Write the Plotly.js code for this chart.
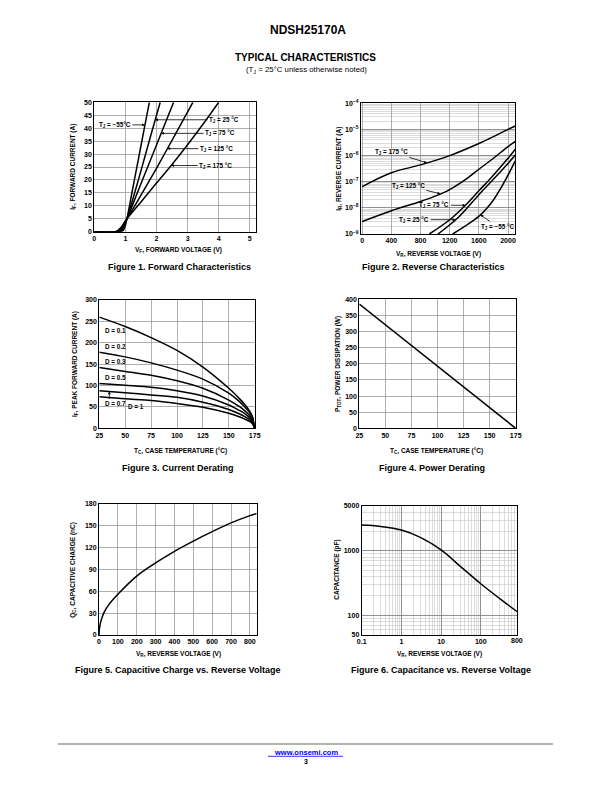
<!DOCTYPE html>
<html><head><meta charset="utf-8">
<script src="https://cdn.plot.ly/plotly-3.0.1.min.js"></script>
<style>html,body{margin:0;padding:0;background:#fff}#c{width:612px;height:792px}</style>
</head><body><div id="c"></div>
<script>
// ---------- Figure 1: forward characteristics ----------
const vf_m55 = [0, 0.85, 0.93, 1.0, 1.05, 1.1, 1.2, 1.4, 1.6, 1.77];
const if_m55 = [0, 0, 0.5, 2.5, 5, 8, 14.4, 26.9, 39.4, 50];
const vf_25  = [0, 0.78, 0.9, 1.0, 1.05, 1.2, 1.5, 1.8, 2.12];
const if_25  = [0, 0, 0.8, 3.5, 5, 11, 23.5, 36.5, 50];
const vf_75  = [0, 0.75, 0.9, 1.0, 1.05, 1.3, 1.7, 2.1, 2.55];
const if_75  = [0, 0, 1.2, 3.8, 5, 12.5, 24.5, 36.5, 50];
const vf_125 = [0, 0.72, 0.88, 1.0, 1.05, 1.4, 2.0, 2.6, 3.17];
const if_125 = [0, 0, 1.6, 4.0, 5, 12, 24.5, 37.5, 50];
const vf_175 = [0, 0.68, 0.85, 1.0, 1.05, 1.5, 2.0, 2.5, 3.0, 3.5, 4.0];
const if_175 = [0, 0, 1.5, 4.2, 5, 11.5, 18.8, 26, 33.6, 41.6, 50];

// ---------- Figure 2: reverse characteristics ----------
const vr_175 = [0, 400, 800, 1200, 1600, 2000, 2100];
const ir_175 = [6.5e-8, 2.2e-7, 4.4e-7, 1.0e-6, 2.9e-6, 1.0e-5, 1.35e-5];
const vr_125 = [0, 400, 800, 1000, 1200, 1400, 1600, 1800, 2000, 2100];
const ir_125 = [3e-9, 7.8e-9, 1.75e-8, 2.8e-8, 5.0e-8, 1.12e-7, 3.0e-7, 7.9e-7, 2.2e-6, 3.5e-6];
const vr_75  = [920, 1200, 1416, 1600, 1784, 2000, 2100];
const ir_75  = [1e-9, 3.5e-9, 1.26e-8, 4.5e-8, 1.6e-7, 7.9e-7, 1.75e-6];
const vr_25  = [1039, 1324, 1600, 1784, 2000, 2100];
const ir_25  = [1e-9, 4.5e-9, 3.2e-8, 1.12e-7, 5.0e-7, 1.05e-6];
const vr_m55 = [1241, 1462, 1623, 1800, 1900, 2000, 2100];
const ir_m55 = [1e-9, 2.5e-9, 5.4e-9, 2.0e-8, 5.6e-8, 1.8e-7, 6.3e-7];

// ---------- Figure 3: current derating ----------
const tc3  = [25, 50, 75, 100, 125, 150, 160, 165, 170, 173, 175];
const d01  = [260, 238, 212, 182, 143, 93.5, 70, 57, 41, 26, 0];
const d02  = [178, 167, 153, 136, 115, 82, 63, 51, 37, 24, 0];
const d03  = [142, 133, 124, 111, 93.5, 66, 51, 42, 30, 19, 0];
const d05  = [105, 100.5, 96, 88, 75.6, 54.6, 42, 35, 25, 16, 0];
const d07  = [88, 83, 78, 72.5, 61, 44, 34, 28, 20, 13, 0];
const d10  = [74, 69, 65, 58, 49, 35, 27, 22, 16, 10, 0];

// ---------- Figure 4: power derating ----------
const tc4  = [25, 175];
const ptot = [385, 0];

// ---------- Figure 5: capacitive charge ----------
const vr5 = [0, 2, 5, 10, 25, 50, 100, 200, 300, 400, 500, 600, 700, 800, 836];
const qc  = [0, 8, 13, 19, 30, 41, 56, 81, 99, 115, 129, 142, 154, 164, 167];

// ---------- Figure 6: capacitance ----------
const vr6 = [0.1, 0.3, 1, 3, 10, 30, 100, 300, 830];
const cap = [2520, 2400, 2115, 1625, 1036, 580, 308, 181, 113];

// tick labels
const fig2YTickVals = [1e-9, 1e-8, 1e-7, 1e-6, 1e-5, 1e-4];
const fig2YTickText = ['10<sup>−9</sup>','10<sup>−8</sup>','10<sup>−7</sup>','10<sup>−6</sup>','10<sup>−5</sup>','10<sup>−4</sup>'];
const fig6XTickVals = [0.1, 1, 10, 100];
const fig6XTickText = ['0.1', '1', '10', '100'];
const fig6YTickVals = [50, 100, 1000, 5000];
const fig6YTickText = ['50', '100', '1000', '5000'];

// ---------- helpers ----------
const W = 612, H = 792;
const FONT = 'Liberation Sans, Arial, Helvetica, sans-serif';
const px = v => v / W;
const py = v => 1 - v / H;
const dx = (a, b) => [a / W, b / W];
const dy = (top, bot) => [1 - bot / H, 1 - top / H];
function interp(xs, ys, x) {
  for (let i = 0; i < xs.length - 1; i++) {
    if (x >= xs[i] && x <= xs[i + 1]) return ys[i] + (ys[i + 1] - ys[i]) * (x - xs[i]) / (xs[i + 1] - xs[i]);
  }
  return ys[ys.length - 1];
}
function interpLog(xs, ys, x) {
  return interp(xs, ys.map(v => Math.log10(v)), x);
}

const traces = [];
function addTrace(x, y, xa, ya, smooth) {
  traces.push({x, y, xaxis: xa, yaxis: ya, type: 'scatter', mode: 'lines',
    line: {color: '#000', width: 1.5, shape: smooth ? 'spline' : 'linear', smoothing: smooth || 0},
    hoverinfo: 'skip', showlegend: false});
}
addTrace(vf_m55, if_m55, 'x', 'y', 0.6);
addTrace(vf_25, if_25, 'x', 'y', 0.6);
addTrace(vf_75, if_75, 'x', 'y', 0.6);
addTrace(vf_125, if_125, 'x', 'y', 0.6);
addTrace(vf_175, if_175, 'x', 'y', 0.6);
addTrace(vr_175, ir_175, 'x2', 'y2', 1);
addTrace(vr_125, ir_125, 'x2', 'y2', 1);
addTrace(vr_75, ir_75, 'x2', 'y2', 1);
addTrace(vr_25, ir_25, 'x2', 'y2', 1);
addTrace(vr_m55, ir_m55, 'x2', 'y2', 1);
[d01, d02, d03, d05, d07, d10].forEach(d => addTrace(tc3, d, 'x3', 'y3', 0.8));
addTrace(tc4, ptot, 'x4', 'y4', 0);
addTrace(vr5, qc, 'x5', 'y5', 1);
addTrace(vr6, cap, 'x6', 'y6', 1.1);

const tickfont = {family: FONT, size: 7, color: '#000', weight: 'bold'};
function ax(extra) {
  return Object.assign({
    showline: true, mirror: true, linecolor: '#000', linewidth: 1,
    showgrid: true, gridcolor: '#9a9a9a', gridwidth: 0.8, zeroline: false,
    ticks: '', tickfont, fixedrange: true
  }, extra);
}
const minorLog = {dtick: 'D1', showgrid: true, gridcolor: '#c4c4c4', gridwidth: 0.6, ticks: ''};

const layout = {
  width: W, height: H, margin: {l: 0, r: 0, t: 0, b: 0},
  paper_bgcolor: '#fff', plot_bgcolor: '#fff',
  font: {family: FONT, color: '#000'},
  showlegend: false,
  xaxis:  ax({domain: dx(94.3, 256), range: [0, 5.2], tick0: 0, dtick: 1, anchor: 'y'}),
  yaxis:  ax({domain: dy(102.3, 231.7), range: [0, 50], tick0: 0, dtick: 5, anchor: 'x'}),
  xaxis2: ax({domain: dx(360.8, 515.3), range: [-20, 2100], tickmode: 'array', tickvals: [0, 400, 800, 1200, 1600, 2000], anchor: 'y2'}),
  yaxis2: ax({domain: dy(103.3, 234), type: 'log', range: [-9, -4], tickmode: 'array', tickvals: fig2YTickVals, ticktext: fig2YTickText, gridcolor: '#808080', minor: minorLog, anchor: 'x2'}),
  xaxis3: ax({domain: dx(99.3, 254.7), range: [25, 175], tick0: 25, dtick: 25, anchor: 'y3'}),
  yaxis3: ax({domain: dy(300, 428.3), range: [0, 300], tick0: 0, dtick: 50, anchor: 'x3'}),
  xaxis4: ax({domain: dx(359.3, 515.7), range: [25, 175], tick0: 25, dtick: 25, anchor: 'y4'}),
  yaxis4: ax({domain: dy(299.3, 428.3), range: [0, 400], tick0: 0, dtick: 50, anchor: 'x4'}),
  xaxis5: ax({domain: dx(99, 256.7), range: [0, 836], tick0: 0, dtick: 100, anchor: 'y5'}),
  yaxis5: ax({domain: dy(504, 635), range: [0, 180], tick0: 0, dtick: 30, anchor: 'x5'}),
  xaxis6: ax({domain: dx(361.7, 517.3), type: 'log', range: [-1, 2.92], tickmode: 'array', tickvals: fig6XTickVals, ticktext: fig6XTickText, gridcolor: '#808080', minor: minorLog, anchor: 'y6'}),
  yaxis6: ax({domain: dy(506, 634.5), type: 'log', range: [Math.log10(50), Math.log10(5000)], tickmode: 'array', tickvals: fig6YTickVals, ticktext: fig6YTickText, gridcolor: '#808080', minor: minorLog, anchor: 'x6'}),
  annotations: [], shapes: []
};

const A = layout.annotations;
const LS = 6.3; // in-plot label size
function txt(x, y, text, size, opts) {
  A.push(Object.assign({xref: 'paper', yref: 'paper', x: px(x), y: py(y), text, showarrow: false,
    xanchor: 'center', yanchor: 'middle', font: {family: FONT, size, color: '#000', weight: 'bold'}}, opts || {}));
}
function arrowLbl(xr, yr, x, y, text, axo, ayo, opts) {
  A.push(Object.assign({xref: xr, yref: yr, x, y, text, showarrow: true, arrowhead: 2, arrowsize: 0.7,
    arrowwidth: 0.8, arrowcolor: '#000', ax: axo, ay: ayo, standoff: 0,
    font: {family: FONT, size: LS, color: '#000', weight: 'bold'}}, opts || {}));
}

// header
txt(308, 30, 'NDSH25170A', 12);
txt(305.5, 58, 'TYPICAL CHARACTERISTICS', 10);
txt(306, 70, '(T<sub>J</sub> = 25°C unless otherwise noted)', 7.8, {font: {family: FONT, size: 7.8, color: '#000', weight: 'normal'}});

// captions
const CS = 9;
txt(179, 267, 'Figure 1. Forward Characteristics', CS);
txt(433, 267, 'Figure 2. Reverse Characteristics', CS);
txt(177.5, 468, 'Figure 3. Current Derating', CS);
txt(431.5, 468, 'Figure 4. Power Derating', CS);
txt(177, 670, 'Figure 5. Capacitive Charge vs. Reverse Voltage', CS);
txt(441, 670, 'Figure 6. Capacitance vs. Reverse Voltage', CS);

// axis titles
const ts = 6.5;
txt(178, 250, 'V<sub>F</sub>, FORWARD VOLTAGE (V)', ts);
txt(72.7, 167, 'I<sub>F</sub>, FORWARD CURRENT (A)', ts, {textangle: -90});
txt(438, 254, 'V<sub>R</sub>, REVERSE VOLTAGE (V)', ts);
txt(338.3, 168.5, 'I<sub>R</sub>, REVERSE CURRENT (A)', ts, {textangle: -90});
txt(180, 451, 'T<sub>C</sub>, CASE TEMPERATURE (°C)', ts);
txt(75, 364, 'I<sub>F</sub>, PEAK FORWARD CURRENT (A)', ts, {textangle: -90});
txt(436.5, 451, 'T<sub>C</sub>, CASE TEMPERATURE (°C)', ts);
txt(338, 364, 'P<sub>TOT</sub>, POWER DISSIPATION (W)', ts, {textangle: -90});
txt(178.5, 654, 'V<sub>R</sub>, REVERSE VOLTAGE (V)', ts);
txt(72.7, 570, 'Q<sub>C</sub>, CAPACITIVE CHARGE (nC)', ts, {textangle: -90});
txt(439, 654, 'V<sub>R</sub>, REVERSE VOLTAGE (V)', ts);
txt(336.7, 570, 'CAPACITANCE (pF)', ts, {textangle: -90});

// extra tick label 800 on fig 6
A.push({xref: 'x6', yref: 'paper', x: Math.log10(800), y: py(640.5), text: '800', showarrow: false,
  xanchor: 'center', yanchor: 'middle', font: tickfont});

// Figure 1 labels
arrowLbl('x', 'y', 1.63, interp(vf_m55, if_m55, 1.63), 'T<sub>J</sub> = −55°C', -30, 0);
arrowLbl('x', 'y', 1.96, interp(vf_25, if_25, 1.96), 'T<sub>J</sub> = 25 °C', 69, 0);
arrowLbl('x', 'y', 2.15, interp(vf_75, if_75, 2.15), 'T<sub>J</sub> = 75 °C', 59, 0);
arrowLbl('x', 'y', 2.35, interp(vf_125, if_125, 2.35), 'T<sub>J</sub> = 125 °C', 49, 0);
arrowLbl('x', 'y', 2.47, interp(vf_175, if_175, 2.47), 'T<sub>J</sub> = 175 °C', 44.5, 0);

// Figure 2 labels
arrowLbl('x2', 'y2', 887, interpLog(vr_175, ir_175, 887), 'T<sub>J</sub> = 175 °C', -35, -11);
arrowLbl('x2', 'y2', 1071, interpLog(vr_125, ir_125, 1071), 'T<sub>J</sub> = 125 °C', -32, -8);
arrowLbl('x2', 'y2', 1416, interpLog(vr_75, ir_75, 1416), 'T<sub>J</sub> = 75 °C', -31, 0);
arrowLbl('x2', 'y2', 1278, interpLog(vr_25, ir_25, 1278), 'T<sub>J</sub> = 25 °C', -41, 0);
arrowLbl('x2', 'y2', 1623, interpLog(vr_m55, ir_m55, 1623), 'T<sub>J</sub> = −55 °C', 17, 12);

// Figure 3 labels
const dl = {xanchor: 'left', font: {family: FONT, size: LS, color: '#000', weight: 'bold'}};
txt(103, 330, 'D = 0.1', LS, dl);
txt(103, 346.7, 'D = 0.2', LS, dl);
txt(103, 361.7, 'D = 0.3', LS, dl);
txt(103, 377.3, 'D = 0.5', LS, dl);
txt(103, 404, 'D = 0.7', LS, dl);
txt(126, 406, 'D = 1', LS, dl);
arrowLbl('x3', 'y3', 34.7, interp(tc3, d07, 34.7), '', 0, 9);

// footer
layout.shapes.push({type: 'line', xref: 'paper', yref: 'paper', x0: px(58), x1: px(553), y0: py(744), y1: py(744), line: {color: '#b4b4b4', width: 2}});
txt(305.5, 752, 'www.onsemi.com', 7.5, {font: {family: FONT, size: 7.5, color: '#0000ff', weight: 'bold'}});
layout.shapes.push({type: 'line', xref: 'paper', yref: 'paper', x0: px(268), x1: px(343), y0: py(756.3), y1: py(756.3), line: {color: '#0000ff', width: 0.8}});
txt(305.7, 761.5, '3', 7);

Plotly.newPlot('c', traces, layout, {staticPlot: true, displayModeBar: false});
</script></body></html>
